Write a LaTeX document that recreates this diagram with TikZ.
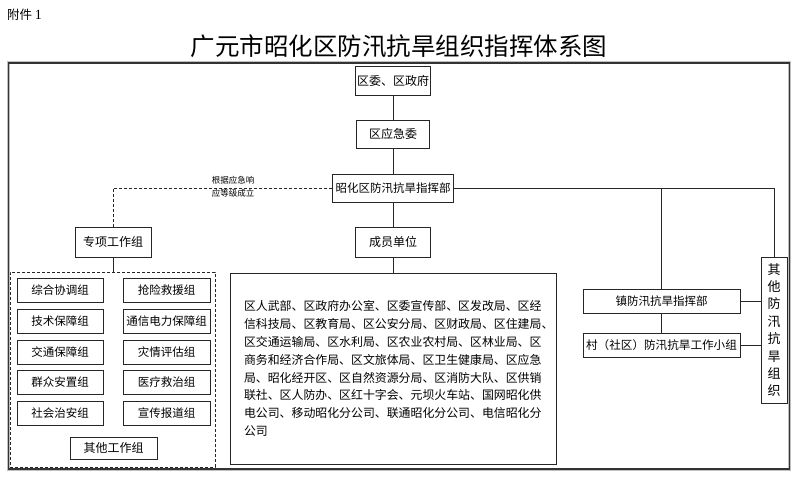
\documentclass[tikz,border=0pt]{standalone}
\usepackage{fontspec}
\setmainfont{Noto Sans CJK SC}
\newfontfamily\numfont{Liberation Serif}
\begin{document}
\begin{tikzpicture}[x=1pt,y=-1pt,
  box/.style={draw=black!85, line width=0.9pt, rectangle, inner sep=0pt, align=center,
    font=\fontsize{11.5}{13}\selectfont},
  conn/.style={draw=black!85, line width=0.9pt},
  dconn/.style={draw=black!85, line width=0.9pt, dash pattern=on 3pt off 2pt},
  grpbox/.style={draw=black!85, line width=0.9pt, dash pattern=on 3pt off 2pt, rectangle, inner sep=0pt},
]
\useasboundingbox (0,0) rectangle (800,478);

% frame
\draw[gray!50, line width=3pt] (8.5,63) rectangle (789.5,469);
\draw[black!80, line width=1.2pt] (8.5,63) rectangle (789.5,469);

% header
\node[anchor=west, inner sep=0pt] (att) at (7,15) {\fontsize{12.5}{14}\selectfont 附件\ {\numfont\fontsize{14}{14}\selectfont 1}};
\node[inner sep=0pt] (title) at (399,46) {\fontsize{24.5}{28}\selectfont 广元市昭化区防汛抗旱组织指挥体系图};

% main column
\node[box, minimum width=75pt, minimum height=29pt, font=\fontsize{12}{14}\selectfont] (gov) at (393,80.5) {区委、区政府};
\node[box, minimum width=73pt, minimum height=28pt, font=\fontsize{12}{14}\selectfont] (emg) at (393,134) {区应急委};
\node[box, minimum width=121pt, minimum height=28pt] (hq) at (393,188) {昭化区防汛抗旱指挥部};
\node[box, minimum width=75pt, minimum height=30pt, font=\fontsize{12}{14}\selectfont] (mem) at (393,242) {成员单位};
\node[box, minimum width=326pt, minimum height=191pt, text width=298pt, align=left,
      font=\fontsize{11.9}{17.9}\selectfont] (big) at (393,368.5) {%
区人武部、区政府办公室、区委宣传部、区发改局、区经\\
信科技局、区教育局、区公安分局、区财政局、区住建局、\\
区交通运输局、区水利局、区农业农村局、区林业局、区\\
商务和经济合作局、区文旅体局、区卫生健康局、区应急\\
局、昭化经开区、区自然资源分局、区消防大队、区供销\\
联社、区人防办、区红十字会、元坝火车站、国网昭化供\\
电公司、移动昭化分公司、联通昭化分公司、电信昭化分\\
公司};

% left: special working groups
\node[box, minimum width=76pt, minimum height=30pt, font=\fontsize{12}{14}\selectfont] (zx) at (113,242) {专项工作组};
\node[grpbox, minimum width=205pt, minimum height=195pt] (grp) at (112.5,369.5) {};
\node[box, minimum width=86pt, minimum height=24pt] (g1) at (60,290) {综合协调组};
\node[box, minimum width=87pt, minimum height=24pt] (g2) at (166.5,290) {抢险救援组};
\node[box, minimum width=86pt, minimum height=24pt] (g3) at (60,321) {技术保障组};
\node[box, minimum width=87pt, minimum height=24pt] (g4) at (166.5,321) {通信电力保障组};
\node[box, minimum width=86pt, minimum height=24pt] (g5) at (60,352) {交通保障组};
\node[box, minimum width=87pt, minimum height=24pt] (g6) at (166.5,352) {灾情评估组};
\node[box, minimum width=86pt, minimum height=24pt] (g7) at (60,382.5) {群众安置组};
\node[box, minimum width=87pt, minimum height=24pt] (g8) at (166.5,382.5) {医疗救治组};
\node[box, minimum width=86pt, minimum height=24pt] (g9) at (60,413) {社会治安组};
\node[box, minimum width=87pt, minimum height=24pt] (g10) at (166.5,413) {宣传报道组};
\node[box, minimum width=87pt, minimum height=22pt, font=\fontsize{12}{14}\selectfont] (g11) at (113.5,448) {其他工作组};

% right side
\node[box, minimum width=157pt, minimum height=24pt] (town) at (661.5,301) {镇防汛抗旱指挥部};
\node[box, minimum width=157pt, minimum height=24pt, font=\fontsize{11.6}{14}\selectfont] (vil) at (661.5,345) {村（社区）防汛抗旱工作小组};
\node[box, minimum width=26pt, minimum height=146pt, font=\fontsize{13}{17.4}\selectfont] (oth) at (774,330) {其\\他\\防\\汛\\抗\\旱\\组\\织};

% connectors
\draw[conn] (gov.south) -- (emg.north);
\draw[conn] (emg.south) -- (hq.north);
\draw[conn] (hq.south) -- (mem.north);
\draw[conn] (mem.south) -- (big.north);
\draw[dconn] (hq.west) -- (zx.north |- hq.west) -- (zx.north);
\node[inner sep=0pt, align=center, font=\fontsize{8.5}{13}\selectfont] (lbl) at (233,186.5) {根据应急响\\应等级成立};
\draw[conn] (zx.south) -- (grp.north -| zx.south);
\draw[conn] (hq.east) -- (oth.north |- hq.east) -- (oth.north);
\coordinate (jt) at (town.north |- hq.east);
\draw[conn] (jt) -- (town.north);
\draw[conn] (town.south) -- (vil.north);
\draw[conn] (town.east) -- (oth.west |- town.east);
\draw[conn] (vil.east) -- (oth.west |- vil.east);
\end{tikzpicture}
\end{document}
